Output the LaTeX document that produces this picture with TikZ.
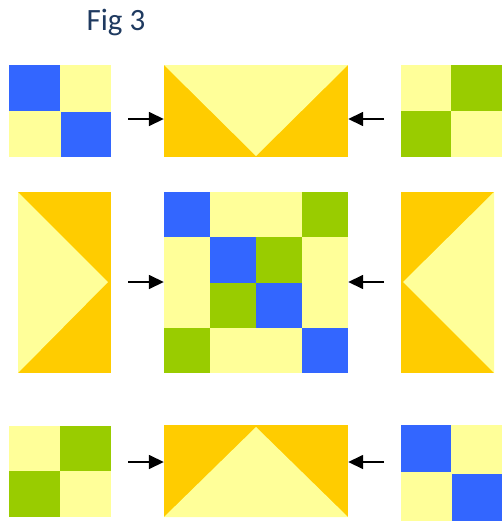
\documentclass[tikz,border=0pt]{standalone}
\usepackage{fontspec}
\setmainfont{Carlito}
\usetikzlibrary{arrows.meta}

\definecolor{qblue}{HTML}{3366FF}
\definecolor{qyellow}{HTML}{FFFF99}
\definecolor{qorange}{HTML}{FFCC00}
\definecolor{qgreen}{HTML}{99CC00}
\definecolor{titleblue}{HTML}{1F3A60}

\begin{document}
\begin{tikzpicture}[
    x=1pt, y=-1pt,
    block/.style={rectangle, draw=none, inner sep=0pt, minimum width=#1},
    arr/.style={-{Triangle[length=15pt,width=14pt]}, line width=1.6pt}
]
\useasboundingbox (0,0) rectangle (502,522);

% Title
\node[anchor=base, text=titleblue, font=\fontsize{31}{31}\selectfont] (title) at (116,30) {Fig 3};

% Top row
\fill[qyellow] (9,65) rectangle (111,157);
\fill[qblue] (9,65) rectangle (60,111);
\fill[qblue] (61,112) rectangle (111,157);
\fill[qorange] (164,65) rectangle (348,157);
\fill[qyellow] (164,65) -- (348,65) -- (256,156) -- cycle;
\fill[qyellow] (401,65) rectangle (502,157);
\fill[qgreen] (451,65) rectangle (502,111);
\fill[qgreen] (401,111) rectangle (451,157);

% Middle row
\fill[qorange] (18,192) rectangle (111,373);
\fill[qyellow] (18,192) -- (108,282) -- (18,373) -- cycle;
\fill[qyellow] (164,192) rectangle (348,373);
\foreach \c/\r/\col in {0/0/qblue, 3/0/qgreen, 1/1/qblue, 2/1/qgreen,
                        1/2/qgreen, 2/2/qblue, 0/3/qgreen, 3/3/qblue} {
    \fill[\col] (164+46*\c,192+45.25*\r) rectangle ++(46,45.25);
}
\fill[qorange] (401,192) rectangle (494,373);
\fill[qyellow] (494,192) -- (403,282) -- (494,373) -- cycle;

% Bottom row
\fill[qyellow] (9,426) rectangle (111,517);
\fill[qgreen] (60,426) rectangle (111,471);
\fill[qgreen] (9,471) rectangle (60,517);
\fill[qorange] (164,425) rectangle (348,517);
\fill[qyellow] (256,427) -- (348,517) -- (164,517) -- cycle;
\fill[qyellow] (401,425) rectangle (502,521);
\fill[qblue] (401,425) rectangle (451,472);
\fill[qblue] (452,474) rectangle (502,521);

% Block outlines for the arrows
\node[block=184pt, minimum height=92pt] (toprow) at (256,111) {};
\node[block=184pt, minimum height=181pt] (midrow) at (256,282.5) {};
\node[block=184pt, minimum height=92pt] (botrow) at (256,471) {};

% Arrow tails
\coordinate (tl) at (128,119);
\coordinate (tr) at (384,119);
\coordinate (ml) at (128,282);
\coordinate (mr) at (384,282);
\coordinate (bl) at (128,462);
\coordinate (br) at (384,462);

% Arrows
\draw[arr] (tl) -- (tl -| toprow.west);
\draw[arr] (tr) -- (tr -| toprow.east);
\draw[arr] (ml) -- (ml -| midrow.west);
\draw[arr] (mr) -- (mr -| midrow.east);
\draw[arr] (bl) -- (bl -| botrow.west);
\draw[arr] (br) -- (br -| botrow.east);

\end{tikzpicture}
\end{document}
